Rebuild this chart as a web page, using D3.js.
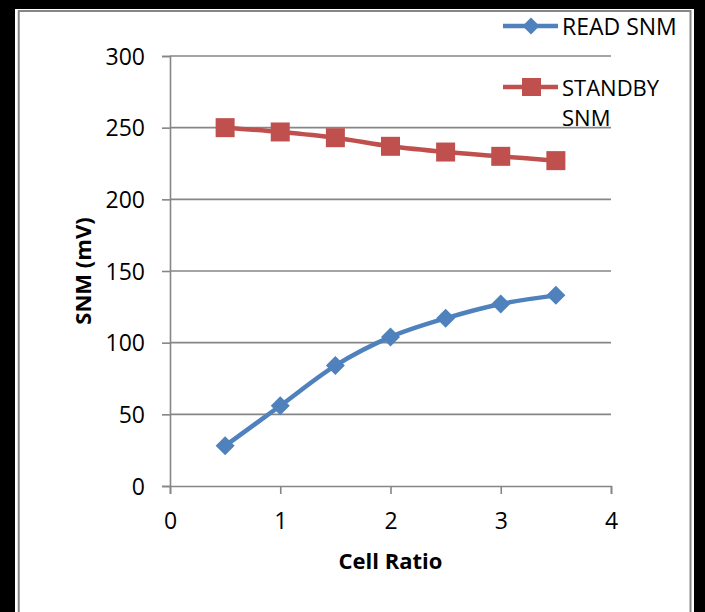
<!DOCTYPE html>
<html>
<head>
<meta charset="utf-8">
<script src="https://cdn.jsdelivr.net/npm/d3@7"></script>
<style>
  html, body { margin: 0; padding: 0; background: #fff; }
  svg { display: block; font-family: "Open Sans", sans-serif; }
</style>
</head>
<body>
<div id="chart"></div>
<script>
// data
const cellRatio = [0.5, 1, 1.5, 2, 2.5, 3, 3.5];
const readSnm = [28, 56, 84, 104, 117, 127, 133];
const standbySnm = [250, 247, 243, 237, 233, 230, 227];
const xTicks = [0, 1, 2, 3, 4];
const yTicks = [0, 50, 100, 150, 200, 250, 300];
const seriesNames = ['READ SNM', 'STANDBY SNM'];

const width = 705, height = 612;
const gridColor = '#868686';
const blue = '#4F81BD', red = '#C0504D';

const svg = d3.select('#chart').append('svg')
    .attr('width', width)
    .attr('height', height);

// frame: black outer border, grey inner border
svg.append('rect').attr('width', width).attr('height', height).attr('fill', '#000');
svg.append('rect')
    .attr('x', 15).attr('y', 9)
    .attr('width', 694 - 15).attr('height', height)
    .attr('fill', '#fff');
svg.append('rect')
    .attr('x', 18.75).attr('y', 11)
    .attr('width', 690.5 - 18.75).attr('height', height + 10)
    .attr('fill', 'none')
    .attr('stroke', gridColor)
    .attr('stroke-width', 2);

const x = d3.scaleLinear().domain([0, 4]).range([170, 611]);
const y = d3.scaleLinear().domain([0, 300]).range([486, 56]);

// horizontal gridlines
svg.append('g')
    .selectAll('line')
    .data(yTicks.filter(d => d > 0))
    .join('line')
    .attr('x1', x(0)).attr('x2', x(4))
    .attr('y1', d => y(d)).attr('y2', d => y(d))
    .attr('stroke', gridColor)
    .attr('stroke-width', 1.6);

const yAxis = svg.append('g')
    .attr('transform', `translate(${x(0)},0)`)
    .call(d3.axisLeft(y).tickValues(yTicks).tickSize(8).tickPadding(17).tickFormat(d3.format('d')));

const xAxis = svg.append('g')
    .attr('transform', `translate(0,${y(0)})`)
    .call(d3.axisBottom(x).tickValues(xTicks).tickSize(8).tickPadding(19).tickFormat(d3.format('d')));

[yAxis, xAxis].forEach(g => {
    g.select('.domain').attr('stroke', gridColor).attr('stroke-width', 1.6);
    g.selectAll('.tick line').attr('stroke', gridColor).attr('stroke-width', 1.6);
    g.selectAll('.tick text')
        .attr('fill', '#000')
        .style('font-family', '"Open Sans", sans-serif')
        .style('font-size', '23px');
});
yAxis.selectAll('.tick text').attr('dy', '0.36em');

// axis titles
svg.append('text')
    .attr('x', (x(0) + x(4)) / 2)
    .attr('y', 569)
    .attr('text-anchor', 'middle')
    .style('font-size', '22px')
    .style('font-weight', 'bold')
    .text('Cell Ratio');

svg.append('text')
    .attr('transform', `translate(91,${(y(0) + y(300)) / 2}) rotate(-90)`)
    .attr('text-anchor', 'middle')
    .style('font-size', '22px')
    .style('font-weight', 'bold')
    .text('SNM (mV)');

const diamond = s => `M0,${-s}L${s},0L0,${s}L${-s},0Z`;
const line = d3.line()
    .x((d, i) => x(cellRatio[i]))
    .y(d => y(d))
    .curve(d3.curveCardinal.tension(0));

// standby series (squares)
svg.append('path')
    .attr('d', line(standbySnm))
    .attr('fill', 'none')
    .attr('stroke', red)
    .attr('stroke-width', 4.5);
svg.append('g')
    .selectAll('rect')
    .data(standbySnm)
    .join('rect')
    .attr('x', (d, i) => x(cellRatio[i]) - 9.5)
    .attr('y', d => y(d) - 9.5)
    .attr('width', 19).attr('height', 19)
    .attr('fill', red);

// read series (diamonds)
svg.append('path')
    .attr('d', line(readSnm))
    .attr('fill', 'none')
    .attr('stroke', blue)
    .attr('stroke-width', 4.5);
svg.append('g')
    .selectAll('path')
    .data(readSnm)
    .join('path')
    .attr('transform', (d, i) => `translate(${x(cellRatio[i])},${y(d)})`)
    .attr('d', diamond(9.5))
    .attr('fill', blue);

// legend
const legend = svg.append('g');
const leg1 = legend.append('g').attr('transform', 'translate(0,26)');
leg1.append('line').attr('x1', 503).attr('x2', 558).attr('stroke', blue).attr('stroke-width', 4.5);
leg1.append('path').attr('transform', 'translate(531,0)').attr('d', diamond(8.5)).attr('fill', blue);
leg1.append('text').attr('x', 562).attr('y', 9).style('font-size', '23px').text(seriesNames[0]);

const leg2 = legend.append('g').attr('transform', 'translate(0,87)');
leg2.append('line').attr('x1', 503).attr('x2', 558).attr('stroke', red).attr('stroke-width', 4.5);
leg2.append('rect').attr('x', 522).attr('y', -9).attr('width', 19).attr('height', 18).attr('fill', red);
leg2.append('text').attr('x', 562).attr('y', 9).style('font-size', '22px')
    .selectAll('tspan')
    .data(seriesNames[1].split(' '))
    .join('tspan')
    .attr('x', 562)
    .attr('dy', (d, i) => i ? 30 : 0)
    .text(d => d);
</script>
</body>
</html>
